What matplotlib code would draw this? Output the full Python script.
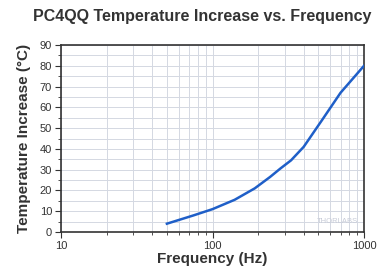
import numpy as np
import matplotlib.pyplot as plt
from matplotlib.ticker import MultipleLocator, LogLocator, NullFormatter

# Curve
frequency = [50, 75, 100, 140, 190, 240, 280, 330, 400, 530, 700, 1000]
temperature = [4, 8, 11, 15.5, 21, 26.5, 30.5, 34.5, 41, 54, 67, 80]

x_ticks = [10, 100, 1000]
x_tick_labels = ["10", "100", "1000"]


def main() -> None:
    plt.rcParams["font.family"] = ["Liberation Sans", "DejaVu Sans"]
    fig = plt.figure(figsize=(3.82, 2.70), dpi=100)
    ax = fig.add_axes([61 / 382, 1 - 232 / 270, 303 / 382, 187 / 270])

    ax.plot(frequency, temperature, color="#1f5fc8", linewidth=1.8,
            solid_joinstyle="round", zorder=3)

    ax.set_xscale("log")
    ax.set_xlim(10, 1000)
    ax.set_ylim(0, 90)
    ax.set_xticks(x_ticks)
    ax.set_xticklabels(x_tick_labels)
    ax.xaxis.set_minor_locator(LogLocator(base=10, subs=np.arange(2, 10)))
    ax.xaxis.set_minor_formatter(NullFormatter())
    ax.yaxis.set_major_locator(MultipleLocator(10))
    ax.yaxis.set_minor_locator(MultipleLocator(5))

    ax.grid(which="both", color="#d4d8e2", linewidth=0.7, zorder=0)
    ax.tick_params(which="major", direction="out", length=4, width=0.8,
                   labelsize=8, colors="#333333", pad=2.5)
    ax.tick_params(which="minor", direction="out", length=2, width=0.6,
                   colors="#333333")
    for spine in ax.spines.values():
        spine.set_color("#333333")
        spine.set_linewidth(1.2)

    ax.set_xlabel("Frequency (Hz)", fontsize=11, fontweight="bold",
                  color="#333333", labelpad=1)
    ax.set_ylabel("Temperature Increase (°C)", fontsize=11, fontweight="bold",
                  color="#333333", labelpad=6)
    fig.text(0.53, 1 - 17 / 270, "PC4QQ Temperature Increase vs. Frequency",
             ha="center", va="center", fontsize=11.5, fontweight="bold",
             color="#333333")

    # faint watermark
    ax.text(0.98, 0.05, "THORLABS", transform=ax.transAxes, ha="right",
            fontsize=5.5, color="#c8ccd8", zorder=2)

    fig.savefig("out.png", dpi=100)


if __name__ == "__main__":
    main()
